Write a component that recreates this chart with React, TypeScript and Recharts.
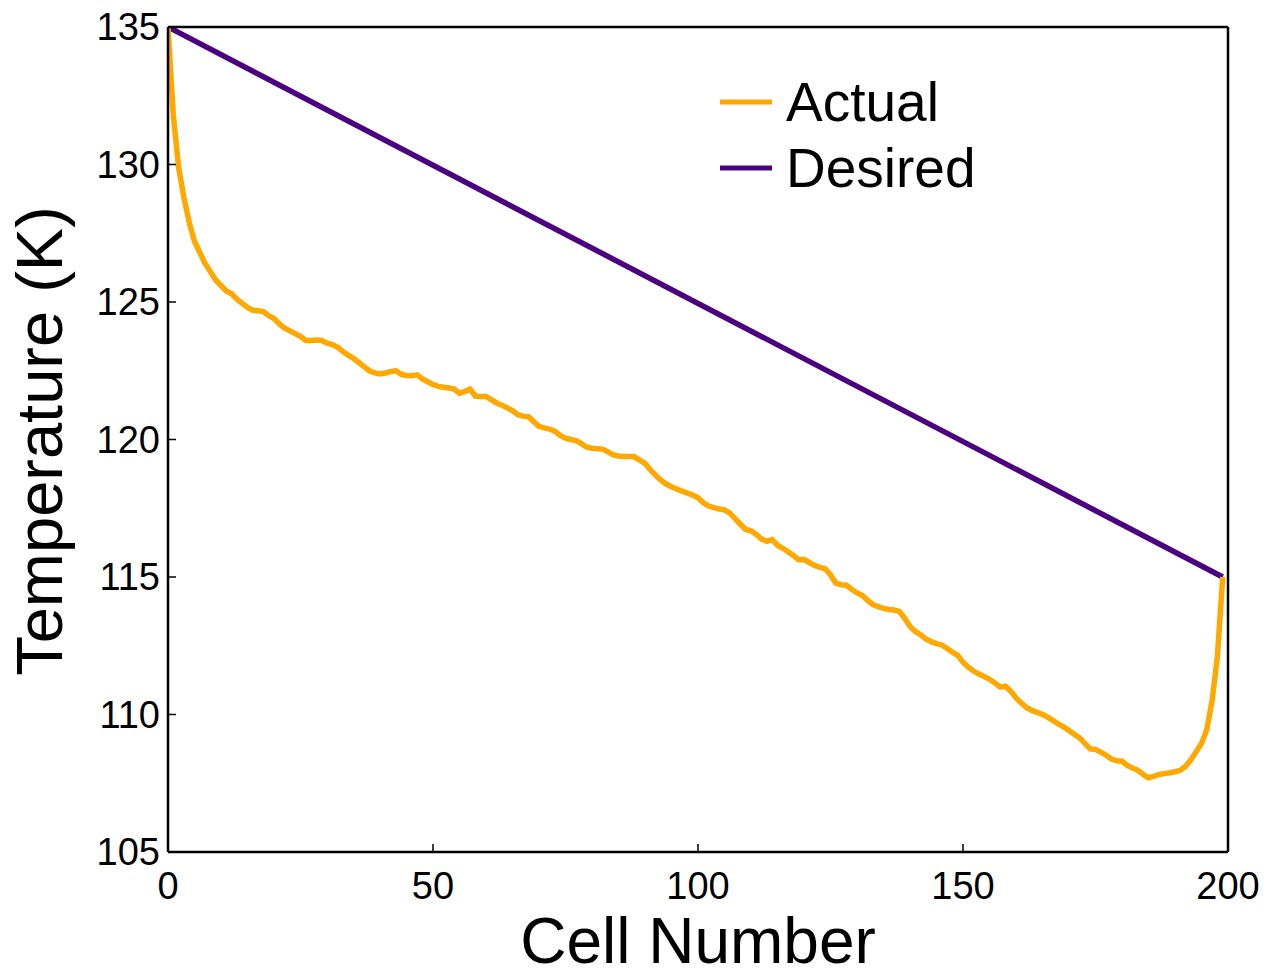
import React from 'react';
import { LineChart, Line, XAxis, YAxis, Legend } from 'recharts';

const actualTemps = [
  135.0, 131.8, 129.9, 128.8, 127.9, 127.2, 126.8, 126.4, 126.1, 125.8,
  125.6, 125.4, 125.3, 125.1, 124.95, 124.8, 124.7, 124.68, 124.65, 124.5,
  124.4, 124.2, 124.05, 123.95, 123.85, 123.75, 123.6, 123.6, 123.62, 123.6,
  123.5, 123.45, 123.35, 123.2, 123.07, 122.95, 122.8, 122.65, 122.5, 122.42,
  122.38, 122.42, 122.47, 122.5, 122.37, 122.33, 122.32, 122.35, 122.2, 122.1,
  122.0, 121.93, 121.9, 121.87, 121.83, 121.68, 121.75, 121.83, 121.58, 121.56,
  121.56, 121.45, 121.33, 121.25, 121.15, 121.05, 120.9, 120.85, 120.83, 120.65,
  120.48, 120.42, 120.38, 120.3, 120.15, 120.05, 120.0, 119.96, 119.85, 119.72,
  119.68, 119.66, 119.65, 119.55, 119.44, 119.4, 119.38, 119.38, 119.37, 119.25,
  119.13, 118.9, 118.7, 118.52, 118.38, 118.28, 118.2, 118.12, 118.05, 117.98,
  117.88, 117.7, 117.58, 117.52, 117.47, 117.44, 117.32, 117.12, 116.92, 116.73,
  116.68, 116.55, 116.38, 116.3, 116.36, 116.15, 116.04, 115.92, 115.78, 115.63,
  115.64, 115.52, 115.42, 115.35, 115.3, 115.08, 114.78, 114.72, 114.7, 114.55,
  114.42, 114.33, 114.15, 114.0, 113.92, 113.86, 113.82, 113.8, 113.75, 113.5,
  113.2, 113.02, 112.9, 112.75, 112.65, 112.58, 112.53, 112.4, 112.27, 112.15,
  111.9, 111.72, 111.58, 111.47, 111.38, 111.28, 111.15, 111.0, 111.03, 110.85,
  110.6, 110.42, 110.25, 110.15, 110.08, 110.0, 109.9, 109.78, 109.65, 109.55,
  109.42, 109.28, 109.15, 108.95, 108.75, 108.73, 108.63, 108.52, 108.38, 108.32,
  108.3, 108.15, 108.05, 107.97, 107.82, 107.7, 107.75, 107.82, 107.85, 107.88,
  107.92, 107.97, 108.12, 108.35, 108.65, 108.95, 109.45, 110.5, 112.1, 115.0,
];
const actualCells = actualTemps.map((_, i) => i);

// Desired profile: straight line between the two end temperatures
const desiredCells = [0, 199];
const desiredTemps = [135, 115];

const xTicks = [0, 50, 100, 150, 200];
const yTicks = [105, 110, 115, 120, 125, 130, 135];
const seriesNames = ['Actual', 'Desired'];

const actualData = actualCells.map((cell, i) => ({ cell, temp: actualTemps[i] }));
const desiredData = desiredCells.map((cell, i) => ({ cell, temp: desiredTemps[i] }));

const FONT = '"Liberation Sans", Arial, sans-serif';

const renderLegend = (props: any) => {
  const items = [...(props.payload || [])].sort(
    (a: any, b: any) => seriesNames.indexOf(a.value) - seriesNames.indexOf(b.value)
  );
  return (
    <div style={{ fontFamily: FONT }}>
      {items.map((item: any) => (
        <div key={item.value} style={{ display: 'flex', alignItems: 'center', height: 66 }}>
          <svg width={52} height={8} style={{ display: 'block' }}>
            <line x1={0} y1={4} x2={52} y2={4} stroke={item.color} strokeWidth={5} />
          </svg>
          <span style={{ fontSize: 55, lineHeight: '66px', color: '#000', marginLeft: 14 }}>
            {item.value}
          </span>
        </div>
      ))}
    </div>
  );
};

const tickFont = { fill: '#000', fontSize: 38, fontFamily: FONT };
const axisStroke = { stroke: '#000', strokeWidth: 2.5 };
const tickStroke = { stroke: '#000', strokeWidth: 1.5 };

export default function App() {
  return (
    <div style={{ position: 'absolute', left: 0, top: 0, width: 1277, height: 979, background: '#fff' }}>
      <LineChart
        width={1277}
        height={979}
        margin={{ top: 26, right: 48, bottom: 0, left: 0 }}
        style={{ fontFamily: FONT }}
      >
        <XAxis
          dataKey="cell"
          type="number"
          domain={[0, 200]}
          ticks={xTicks}
          allowDataOverflow
          height={127}
          axisLine={axisStroke}
          tickLine={tickStroke}
          tickSize={-8}
          tickMargin={28}
          tick={tickFont}
          label={() => (
            <text x={698} y={963} textAnchor="middle" fontSize={64} fontFamily={FONT} fill="#000">
              Cell Number
            </text>
          )}
        />
        <XAxis
          xAxisId="top"
          orientation="top"
          dataKey="cell"
          type="number"
          domain={[0, 200]}
          ticks={xTicks}
          allowDataOverflow
          height={1}
          axisLine={axisStroke}
          tickLine={tickStroke}
          tickSize={-8}
          tick={false}
        />
        <YAxis
          type="number"
          domain={[105, 135]}
          ticks={yTicks}
          allowDataOverflow
          width={168}
          axisLine={axisStroke}
          tickLine={tickStroke}
          tickSize={-8}
          tickMargin={16}
          tick={tickFont}
          label={() => (
            <text
              x={62}
              y={441}
              transform="rotate(-90, 62, 441)"
              textAnchor="middle"
              fontSize={65}
              fontFamily={FONT}
              fill="#000"
            >
              Temperature (K)
            </text>
          )}
        />
        <YAxis
          yAxisId="right"
          orientation="right"
          type="number"
          domain={[105, 135]}
          ticks={yTicks}
          allowDataOverflow
          width={1}
          axisLine={axisStroke}
          tickLine={tickStroke}
          tickSize={-8}
          tick={false}
        />
        <Legend
          layout="vertical"
          align="center"
          verticalAlign="middle"
          content={renderLegend}
          wrapperStyle={{ position: 'absolute', left: 720, top: 69, width: 300 }}
        />
        <Line
          data={desiredData}
          dataKey="temp"
          name="Desired"
          type="linear"
          stroke="#4B0082"
          strokeWidth={5.5}
          dot={false}
          isAnimationActive={false}
        />
        <Line
          data={actualData}
          dataKey="temp"
          name="Actual"
          type="linear"
          stroke="#FFA800"
          strokeWidth={5.5}
          dot={false}
          isAnimationActive={false}
        />
      </LineChart>
    </div>
  );
}
